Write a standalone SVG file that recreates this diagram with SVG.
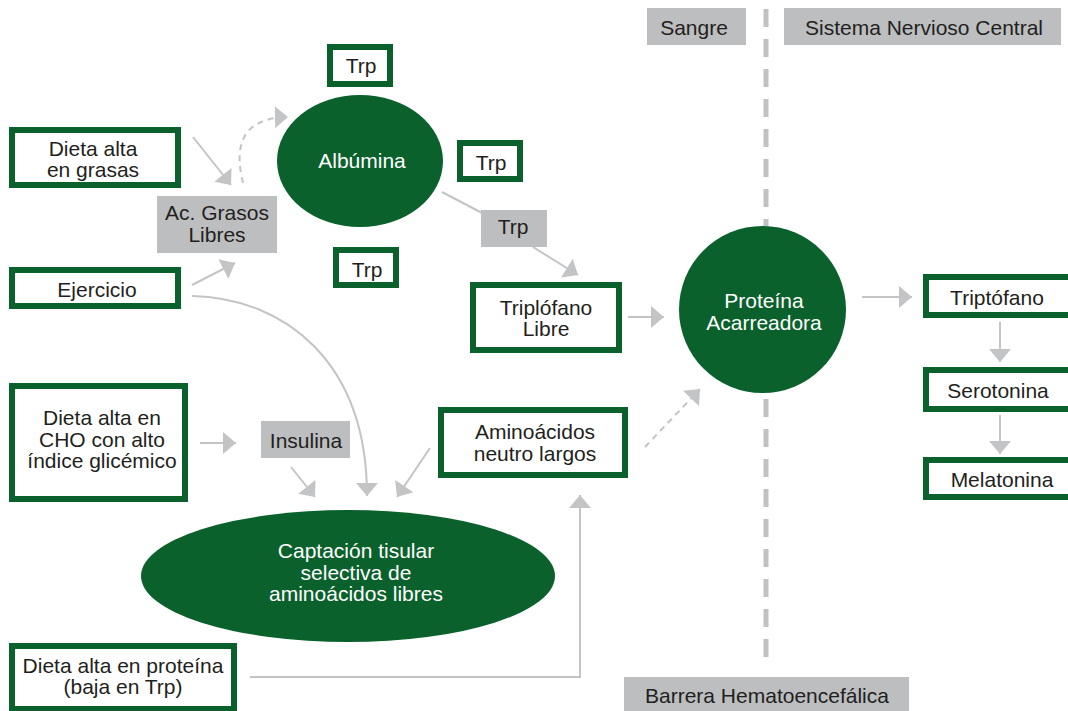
<svg xmlns="http://www.w3.org/2000/svg" width="1068" height="711" viewBox="0 0 1068 711">
<style>
.box{fill:#ffffff;stroke:#0a612b;stroke-width:6}
.gbox{fill:#bcbec0}
.green{fill:#0a612b}
.t{font-family:"Liberation Sans",Arial,sans-serif;font-size:21px;fill:#231f20;text-anchor:middle}
.w{fill:#ffffff}
.c{fill:none;stroke:#c3c4c6;stroke-width:2}
.d{stroke-dasharray:6 5}
.bar{fill:none;stroke:#c0c1c3;stroke-width:5;stroke-dasharray:18 12}
</style>
<defs>
<marker id="ah" markerUnits="userSpaceOnUse" markerWidth="16" markerHeight="24" viewBox="-14 -12 16 24" refX="0" refY="0" orient="auto">
<path d="M-13,-11 L0,0 L-13,11 Z" fill="#c3c4c6"/>
</marker>
</defs>
<rect width="1068" height="711" fill="#ffffff"/>
<g id="barrier-line">
<line class="bar" x1="766" y1="9" x2="766" y2="660"/>
</g>
<g id="connectors">
<line class="c" x1="193" y1="137" x2="231" y2="185" marker-end="url(#ah)"/>
<line class="c" x1="192" y1="285" x2="235" y2="263" marker-end="url(#ah)"/>
<path class="c d" d="M243,183 C235,150 238,118 288,117" marker-end="url(#ah)"/>
<line class="c" x1="442" y1="192" x2="484" y2="214"/>
<line class="c" x1="533" y1="247" x2="578" y2="275" marker-end="url(#ah)"/>
<line class="c" x1="628" y1="317" x2="664" y2="317" marker-end="url(#ah)"/>
<line class="c" x1="862" y1="297" x2="912" y2="297" marker-end="url(#ah)"/>
<line class="c" x1="1000" y1="322" x2="1000" y2="362" marker-end="url(#ah)"/>
<line class="c" x1="1000" y1="415" x2="1000" y2="454" marker-end="url(#ah)"/>
<line class="c d" x1="645" y1="447" x2="700" y2="389" marker-end="url(#ah)"/>
<line class="c" x1="200" y1="443" x2="236" y2="443" marker-end="url(#ah)"/>
<line class="c" x1="291" y1="467" x2="315" y2="497" marker-end="url(#ah)"/>
<path class="c" d="M192,296 C285,298 367,362 367,496" marker-end="url(#ah)"/>
<line class="c" x1="430" y1="448" x2="397" y2="497" marker-end="url(#ah)"/>
<path class="c" d="M250,677 H580 V495" marker-end="url(#ah)"/>
</g>
<g id="sangre"><rect class="gbox" x="647" y="8" width="99" height="37"/><text class="t" x="694" y="35">Sangre</text></g>
<g id="snc"><rect class="gbox" x="784" y="8" width="277" height="37"/><text class="t" x="924" y="35">Sistema Nervioso Central</text></g>
<g id="barrera"><rect class="gbox" x="624" y="677" width="285" height="40"/><text class="t" x="767" y="703">Barrera Hematoencefálica</text></g>
<g id="dieta-grasas"><rect class="box" x="12" y="130" width="166" height="55"/><text class="t" x="93" y="156">Dieta alta</text><text class="t" x="93" y="177">en grasas</text></g>
<g id="ac-grasos"><rect class="gbox" x="157" y="196" width="120" height="57"/><text class="t" x="217" y="220">Ac. Grasos</text><text class="t" x="217" y="242">Libres</text></g>
<g id="ejercicio"><rect class="box" x="12" y="270" width="166" height="36"/><text class="t" x="97" y="297">Ejercicio</text></g>
<g id="albumina"><ellipse class="green" cx="360" cy="161" rx="83" ry="66"/><text class="t w" x="362" y="168">Albúmina</text></g>
<g id="trp-top"><rect class="box" x="330" y="47" width="60" height="37"/><text class="t" x="361" y="73">Trp</text></g>
<g id="trp-right"><rect class="box" x="460" y="143" width="60" height="36"/><text class="t" x="491" y="170">Trp</text></g>
<g id="trp-bottom"><rect class="box" x="336" y="250" width="60" height="35"/><text class="t" x="367" y="277">Trp</text></g>
<g id="trp-gray"><rect class="gbox" x="481" y="210" width="66" height="37"/><text class="t" x="513" y="234">Trp</text></g>
<g id="triptofano-libre"><rect class="box" x="473" y="285" width="146" height="65"/><text class="t" x="546" y="315">Triplófano</text><text class="t" x="546" y="336">Libre</text></g>
<g id="proteina"><circle class="green" cx="762.500" cy="309.500" r="83.500"/><text class="t w" x="764" y="308">Proteína</text><text class="t w" x="764" y="330">Acarreadora</text></g>
<g id="triptofano"><rect class="box" x="926" y="277" width="150" height="38"/><text class="t" x="997" y="305">Triptófano</text></g>
<g id="serotonina"><rect class="box" x="926" y="370" width="150" height="39"/><text class="t" x="998" y="398">Serotonina</text></g>
<g id="melatonina"><rect class="box" x="926" y="460" width="150" height="37"/><text class="t" x="1002" y="487">Melatonina</text></g>
<g id="dieta-cho"><rect class="box" x="12" y="386" width="173" height="113"/><text class="t" x="102" y="425">Dieta alta en</text><text class="t" x="102" y="447">CHO con alto</text><text class="t" x="102" y="468">índice glicémico</text></g>
<g id="insulina"><rect class="gbox" x="261" y="421" width="89" height="37"/><text class="t" x="306" y="448">Insulina</text></g>
<g id="aminoacidos"><rect class="box" x="441" y="410" width="184" height="65"/><text class="t" x="535" y="439">Aminoácidos</text><text class="t" x="535" y="461">neutro largos</text></g>
<g id="captacion"><ellipse class="green" cx="348" cy="576" rx="207" ry="66"/><text class="t w" x="356" y="558">Captación tisular</text><text class="t w" x="356" y="580">selectiva de</text><text class="t w" x="356" y="601">aminoácidos libres</text></g>
<g id="dieta-proteina"><rect class="box" x="12" y="646" width="222" height="63"/><text class="t" x="123" y="673">Dieta alta en proteína</text><text class="t" x="123" y="694">(baja en Trp)</text></g>
</svg>
